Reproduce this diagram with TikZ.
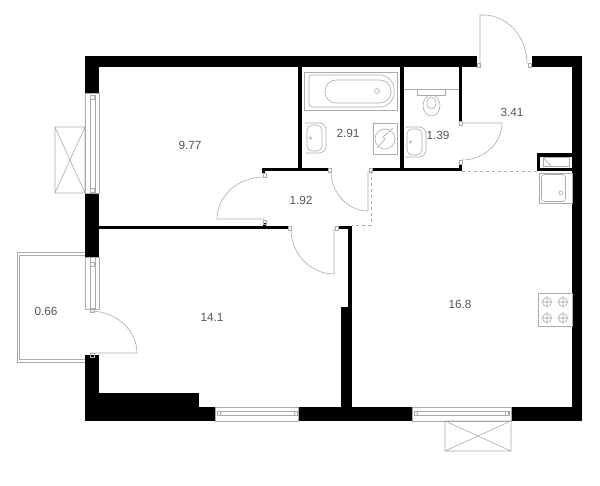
\documentclass[tikz,border=0pt]{standalone}
\usepackage{fontspec}
\setmainfont{Liberation Sans}
\usetikzlibrary{calc}
\definecolor{linegray}{HTML}{ABABAB}
\definecolor{labelgray}{HTML}{555555}
\begin{document}
\begin{tikzpicture}
  [x=1pt,y=-1pt,every node/.style={text=labelgray,font=\fontsize{11.8}{12}\selectfont,inner sep=0pt}]
  \tikzstyle{wall} = [fill=black]
  \tikzstyle{fixture} = [draw=linegray,line width=.6pt,fill=none]
  \tikzstyle{pane} = [draw=linegray,line width=.6pt,fill=white]
  \useasboundingbox (0,0) rectangle (600,486);
  % walls
  \foreach \xa/\ya/\xb/\yb in {85/56/477/67,532/56/582/67,572/56/582/421,85/56/99/93,85/193/99/257,85/355/99/421,
      85/407/215/421,99/393/199/407,298/407/412/421,511/407/582/421,341/307/352/407,348/226/352/307,338/226/352/229,
      99/226/288/229,263/223/266/226,298/67/302/171,262/168/328/171,262/168/265/173,372/168/462/171,
      400/67/404/171,459/67/462/121,459/164/462/171,537/153/572/157,537/168/572/171,537/153/540/171}
    \fill[wall] (\xa,\ya) rectangle (\xb,\yb);
  % windows
  \foreach \xa/\ya/\xb/\yb/\xc/\yc/\xd/\yd in {85/93/99/193/90.5/95/95/192,85/257/99/309/90.5/257/95/309,
      215/407/298/421/217/411/297/415,412/407/511/421/414/411/509/415}
  {
    \draw[pane] (\xa,\ya) rectangle (\xb,\yb);
    \draw[fixture] (\xc,\yc) rectangle (\xd,\yd);
  }
  % jambs
  \foreach \xa/\ya in {263/173,263/220,288/226,335/226,328/168,369/168,459/121,459/160,477/63.5,528/63.5,90.5/308,90.5/353,
      90.5/262,90.5/95,90.5/188,217/411,294/411,414/411,505/411}
    \draw[fixture] (\xa,\ya) rectangle +(3.5,4);
  % doors
  \foreach \hx/\hy/\ax/\ay/\bx/\by in {264/219/217/219/264/177,368/171/368/211/331/171,334/229/334/274/291/229,
      462/123/502/123/462/160,480/67/480/15/527/64,90/353/137/353/90/311}
  {
    \draw[fixture] (\hx,\hy) -- (\ax,\ay)
      .. controls ($(\ax,\ay)+.55*(\bx,\by)-.55*(\hx,\hy)$) and ($(\bx,\by)+.55*(\ax,\ay)-.55*(\hx,\hy)$) .. (\bx,\by);
  }
  % open wall lines
  \draw[fixture,dashed] (371,171) -- (371,225) -- (352,225);
  \draw[fixture,dashed] (462,171) -- (537,171);
  % balconies
  \draw[fixture] (85,252) -- (17,252) -- (17,362) -- (85,362);
  \draw[fixture] (85,255) -- (19.5,255) -- (19.5,359) -- (85,359);
  \draw[fixture] (55,127) rectangle (85,193) (55,127) -- (85,193) (55,193) -- (85,127);
  \draw[fixture] (445,421) rectangle (511,451) (445,421) -- (511,451) (445,451) -- (511,421);
  % bath
  \draw[fixture] (304,72) rectangle (397,110);
  \draw[fixture,rounded corners=3pt] (309,75) -- (378,75) [rounded corners=14pt] -- (394,75) -- (394,107) [rounded corners=3pt] -- (309,107) -- cycle;
  \draw[fixture,rounded corners=11pt] (325,80) rectangle (391,103);
  \draw[fixture] (377,91) circle (2.5);
  % basins
  \foreach \sx/\sy in {304/123,404/127}
  {
    \draw[fixture,rounded corners=7pt] (\sx+1,\sy) -- (\sx+22,\sy) -- (\sx+22,\sy+30) -- (\sx+1,\sy+30);
    \draw[fixture,rounded corners=5pt] (\sx+3,\sy+2) -- (\sx+18,\sy+2) -- (\sx+18,\sy+28) -- (\sx+3,\sy+28) -- cycle;
    \draw[fixture] (\sx+6.5,\sy+15) circle (1.2);
  }
  % washer
  \draw[fixture] (373,123) rectangle (397,154);
  \draw[fixture] (385,139) circle (10);
  \draw[fixture] (377,148) -- (385,139) -- (383,137) -- (393,128);
  % toilet
  \draw[fixture] (404,89) -- (459,89);
  \draw[fixture] (417,89) -- (417,95) -- (445,95) -- (445,89);
  \draw[fixture] (431.5,105.5) ellipse (8.5 and 10.5);
  \draw[fixture] (431.5,103) ellipse (4.5 and 6);
  % kitchen
  \draw[fixture] (543,157.5) rectangle (569,166);
  \draw[fixture] (543,157.5) -- (551,166);
  \draw[fixture] (539,173) rectangle (572,203);
  \draw[fixture,rounded corners=3pt] (541.5,174.5) rectangle (565.5,201.5);
  \draw[fixture] (561,193) circle (2);
  \draw[fixture] (538,293) rectangle (572,326);
  \foreach \bx/\by in {547/302,563/302,547/318,563/318}
    \draw[fixture] (\bx,\by) circle (4.5) (\bx-5.5,\by) -- (\bx+5.5,\by) (\bx,\by-5.5) -- (\bx,\by+5.5);
  % areas
  \node (bedroom) at (190,145) {9.77};
  \node (bath) at (348,133) {2.91};
  \node (wc) at (438,135) {1.39};
  \node (entry) at (512,112) {3.41};
  \node (hall) at (301,200) {1.92};
  \node (room) at (212,317) {14.1};
  \node (balcony) at (46,311) {0.66};
  \node (kitchen) at (460,304) {16.8};
\end{tikzpicture}
\end{document}
